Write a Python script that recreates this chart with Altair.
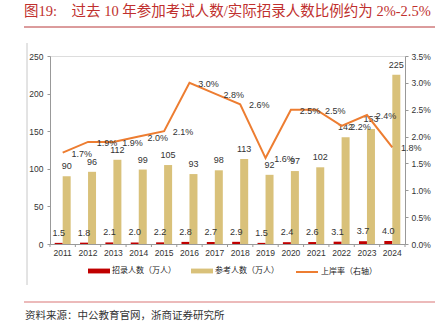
import altair as alt
import pandas as pd

years = ["2011", "2012", "2013", "2014", "2015", "2016", "2017",
         "2018", "2019", "2020", "2021", "2022", "2023", "2024"]
hired = [1.5, 1.8, 2.1, 2.0, 2.2, 2.8, 2.7, 2.9, 1.5, 2.4, 2.6, 3.1, 3.7, 4.0]
applicants = [90, 96, 112, 99, 105, 93, 98, 113, 92, 97, 102, 142, 153, 225]
ratio = [0.017, 0.019, 0.019, 0.020, 0.021, 0.030, 0.028, 0.026, 0.016,
         0.025, 0.025, 0.022, 0.024, 0.018]
left_ticks = [0, 50, 100, 150, 200, 250]
right_ticks = [0, 0.005, 0.01, 0.015, 0.02, 0.025, 0.03, 0.035]

s_hired = "招录人数（万人）"
s_app = "参考人数（万人）"
s_ratio = "上岸率（右轴）"
NB = "\u00a0"
title_text = "图19:" + NB * 4 + "过去" + NB + "10" + NB + "年参加考试人数/实际招录人数比例约为" + NB + "2%-2.5%"
source_text = "资料来源：中公教育官网，浙商证券研究所"

RED = "#C00000"
GOLD = "#D9C17A"
ORANGE = "#ED7D31"
NUMF = "Liberation Sans"
CJK = "Noto Sans CJK SC"
W, H = 355, 188

bars_df = pd.DataFrame({
    "year": years * 2,
    "series": [s_hired] * len(years) + [s_app] * len(years),
    "value": hired + applicants,
})
line_df = pd.DataFrame({"year": years, "ratio": ratio, "lname": [s_ratio] * len(years)})
one = pd.DataFrame({"a": [0]})

xenc = alt.X("year:N", sort=years, title=None,
             scale=alt.Scale(paddingInner=0, paddingOuter=0),
             axis=alt.Axis(labelAngle=0, ticks=False, labelPadding=4, labelFont=NUMF,
                           labelFontSize=8.5, labelColor="#333", domainColor="#999"))
xoff = alt.XOffset("series:N", sort=[s_hired, s_app],
                   scale=alt.Scale(paddingInner=0, paddingOuter=0.585))
yleft = alt.Y("value:Q", title=None,
              scale=alt.Scale(domain=[0, 250], nice=False),
              axis=alt.Axis(orient="left", values=left_ticks, tickCount=6, grid=False,
                            labelOverlap=False,
                            tickSize=3, labelPadding=4, labelFont=NUMF, labelFontSize=8.5,
                            labelColor="#333", domainColor="#999", tickColor="#999"))
yright = alt.Y("ratio:Q", title=None,
               scale=alt.Scale(domain=[0, 0.035], nice=False),
               axis=alt.Axis(orient="right", format=".1%", values=right_ticks, tickCount=8,
                             grid=False, labelOverlap=False, tickSize=3, labelPadding=3,
                             labelFont=NUMF, labelFontSize=8.5, labelColor="#333",
                             domainColor="#999", tickColor="#999"))

bars = alt.Chart(bars_df).mark_bar().encode(
    x=xenc, xOffset=xoff, y=yleft,
    color=alt.Color("series:N",
                    scale=alt.Scale(domain=[s_hired, s_app], range=[RED, GOLD]),
                    legend=alt.Legend(orient="none", legendX=38, legendY=204,
                                      direction="horizontal", title=None,
                                      symbolType="M-1,-0.22H1V0.22H-1Z", symbolSize=484,
                                      symbolStrokeWidth=0, labelFont=CJK, labelFontSize=8,
                                      labelColor="#222", columnPadding=15, labelOffset=2)),
)
bar_text = alt.Chart(bars_df).transform_calculate(
    label="datum.series == '%s' ? format(datum.value, '.1f') : format(datum.value, '.0f')" % s_hired
).mark_text(dy=-10, baseline="middle", font=NUMF, fontSize=9, color="#333").encode(
    x=xenc, xOffset=xoff, y=yleft, text="label:N",
)
left = alt.layer(bars, bar_text)

line = alt.Chart(line_df).mark_line(strokeWidth=2).encode(
    x=xenc, y=yright,
    stroke=alt.Stroke("lname:N", scale=alt.Scale(domain=[s_ratio], range=[ORANGE]),
                      legend=alt.Legend(orient="none", legendX=245, legendY=204,
                                        direction="horizontal", title=None,
                                        symbolType="stroke", symbolSize=484,
                                        symbolStrokeWidth=2, labelFont=CJK, labelFontSize=8,
                                        labelColor="#222", labelOffset=2)),
)
line_text = alt.Chart(line_df).mark_text(dx=19, dy=1, baseline="middle", font=NUMF,
                                         fontSize=9, color="#333").encode(
    x=xenc, y=yright,
    text=alt.Text("ratio:Q", format=".1%"),
)
right = alt.layer(line, line_text)

ticks = alt.Chart(bars_df[bars_df["series"] == s_hired]).mark_rule(color="#999").encode(
    x=alt.X("year:N", sort=years, bandPosition=0), y=alt.value(H), y2=alt.value(H + 3))
tick_end = alt.Chart(one).mark_rule(color="#999").encode(
    x=alt.value(W), y=alt.value(H), y2=alt.value(H + 3))

title_mark = alt.Chart(one).mark_text(text=title_text, align="left", baseline="middle",
                                      font="Liberation Serif, Noto Sans CJK SC",
                                      fontSize=14.5, color="#C0302E").encode(
    x=alt.value(-26), y=alt.value(-44))
title_rule = alt.Chart(one).mark_rule(color="#B8383A", strokeWidth=1).encode(
    x=alt.value(-26), x2=alt.value(385), y=alt.value(-29))
side_rule = alt.Chart(one).mark_rule(color="#C8C8C8", strokeWidth=1).encode(
    x=alt.value(-23), y=alt.value(-13), y2=alt.value(229))
bottom_rule = alt.Chart(one).mark_rule(color="#E6A3A3", strokeWidth=1.5).encode(
    x=alt.value(-26), x2=alt.value(385), y=alt.value(246))
source_mark = alt.Chart(one).mark_text(text=source_text, align="left", baseline="middle",
                                       font=CJK, fontSize=10.5, color="#333").encode(
    x=alt.value(-25), y=alt.value(260))

chart = alt.layer(
    left, right, ticks, tick_end, title_mark, title_rule, side_rule, bottom_rule, source_mark
).resolve_scale(y="independent", color="independent", stroke="independent").properties(
    width=W, height=H,
    padding={"left": 50, "top": 56, "right": 42, "bottom": 84},
    autosize=alt.AutoSizeParams(type="none"),
).configure_view(stroke=None).configure(background="white")

chart.save("out.html", embed_options={"renderer": "svg", "actions": False})
